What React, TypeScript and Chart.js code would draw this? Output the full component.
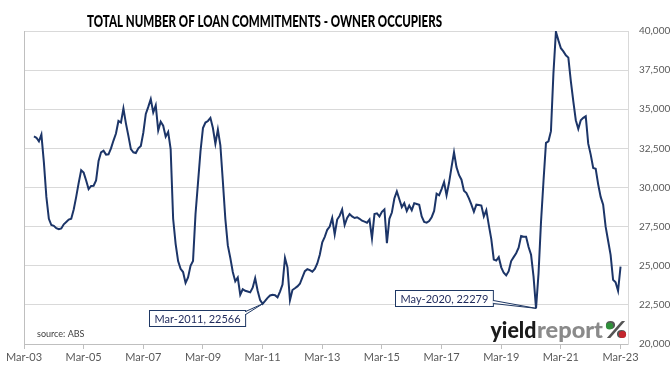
import React, { useEffect, useRef } from 'react';
import { Chart, registerables } from 'chart.js';

Chart.register(...registerables);

const TITLE = 'TOTAL NUMBER OF LOAN COMMITMENTS - OWNER OCCUPIERS';
const SOURCE = 'source: ABS';

// months counted from Mar-03 (index 0); first observation is Jul-03
const FIRST_MONTH = 4;

// Owner-occupier loan commitments, monthly, Jul-03 .. Mar-23
const commitments = [
  // Jul-03 .. Dec-03
  33260, 33180, 32950, 33380, 31600, 29400,
  // 2004
  28000, 27600, 27550, 27400, 27330, 27380, 27650, 27800, 27950, 28010, 28600, 29400,
  // 2005
  30300, 31100, 30950, 30450, 29900, 30100, 30110, 30450, 31700, 32250, 32350, 32100,
  // 2006
  32120, 32500, 33000, 33450, 34250, 34150, 35050, 34100, 33300, 32450, 32250, 32200,
  // 2007
  32500, 32650, 33500, 34700, 35150, 35650, 34800, 35250, 33650, 34200, 33950, 33250,
  // 2008
  33550, 32450, 28000, 26400, 25300, 24800, 24600, 23900, 24250, 25000, 25300, 28300,
  // 2009
  30300, 32300, 33800, 34150, 34250, 34450, 33800, 32800, 33700, 32700, 30400, 28000,
  // 2010
  26300, 25500, 24600, 24000, 24250, 23150, 23500, 23400, 23350, 23300, 23600, 24200,
  // 2011
  23400, 22800, 22566, 22750, 22950, 23100, 23150, 23120, 22980, 23350, 23800, 25500,
  // 2012
  24900, 22800, 23450, 23560, 23680, 23850, 24250, 24650, 24780, 24720, 24620, 24800,
  // 2013
  25150, 25700, 26500, 26850, 27300, 27500, 28050, 27000, 27950, 28200, 28600, 27600,
  // 2014
  28050, 28300, 28150, 28050, 28100, 28000, 27880, 27820, 27750, 27950, 26750, 28300,
  // 2015
  28350, 28150, 28450, 28600, 26450, 28000, 28400, 29300, 29750, 29250, 28750, 29000,
  // 2016
  28500, 28850, 28550, 29000, 28950, 28900, 28150, 27800, 27750, 27850, 28100, 28500,
  // 2017
  29600, 29500, 29900, 30350, 29500, 30300, 31300, 32250, 31300, 30800, 30500, 29800,
  // 2018
  29650, 29300, 28900, 28450, 28900, 28880, 28850, 28150, 28550, 27600, 26700, 25400,
  // 2019
  25330, 25550, 24900, 24550, 24380, 24650, 25300, 25550, 25800, 26150, 26900, 26850,
  // 2020
  26850, 26200, 25700, 24300, 22279, 24500, 27800, 30400, 32850, 32950, 33600, 37300,
  // 2021
  39950, 39400, 38900, 38700, 38450, 38300, 36800, 35500, 34300, 33750, 34300, 34450,
  // 2022
  34550, 32800, 32100, 31250, 31200, 30200, 29400, 28900, 27500, 26600, 25700, 24100,
  // Jan-23 .. Mar-23
  23950, 23400, 24950,
];

const xTickMonths = [0, 24, 48, 72, 96, 120, 144, 168, 192, 216, 240];
const xTickLabels = ['Mar-03', 'Mar-05', 'Mar-07', 'Mar-09', 'Mar-11', 'Mar-13', 'Mar-15', 'Mar-17', 'Mar-19', 'Mar-21', 'Mar-23'];
const yTickValues = [20000, 22500, 25000, 27500, 30000, 32500, 35000, 37500, 40000];

const calloutLabels = ['Mar-2011, 22566', 'May-2020, 22279'];
const calloutMonths = [96, 206];
const calloutValues = [22566, 22279];

// layout of the callout boxes relative to their points (px)
const calloutLayout = [
  { dx: -114, dy: 6.5, wedgeTop: 1, wedgeBottom: 4 },
  { dx: -141.5, dy: -18.5, wedgeTop: 10, wedgeBottom: 13 },
];

const FONT = 'Lato, "Open Sans", Arial, sans-serif';
const NAVY = '#1f3864';
const LINE = '#1c3568';

const overlayPlugin = {
  id: 'overlay',
  beforeDraw(chart: any) {
    const { ctx } = chart;
    ctx.save();
    ctx.fillStyle = '#ffffff';
    ctx.fillRect(0, 0, chart.width, chart.height);
    ctx.restore();
  },
  afterDraw(chart: any) {
    const { ctx, chartArea: a, scales } = chart;
    const xs = scales.x;
    const ys = scales.y;
    ctx.save();

    // left frame line
    ctx.strokeStyle = '#bfbfbf';
    ctx.lineWidth = 1;
    ctx.beginPath();
    ctx.moveTo(Math.round(a.left) + 0.5, a.top);
    ctx.lineTo(Math.round(a.left) + 0.5, a.bottom);
    ctx.stroke();

    // title
    ctx.fillStyle = '#000000';
    ctx.font = `900 16px ${FONT}`;
    ctx.textBaseline = 'alphabetic';
    ctx.textAlign = 'left';
    const tw = ctx.measureText(TITLE).width;
    const targetW = 355;
    ctx.save();
    ctx.translate(87, 26.5);
    ctx.scale(targetW / tw, 1);
    ctx.fillText(TITLE, 0, 0);
    ctx.restore();

    // source
    ctx.fillStyle = '#404040';
    ctx.font = `9px ${FONT}`;
    ctx.fillText(SOURCE, 37, 337);

    // callouts
    calloutLabels.forEach((label, k) => {
      const px = xs.getPixelForValue(calloutMonths[k]);
      const py = ys.getPixelForValue(calloutValues[k]);
      const lay = calloutLayout[k];
      ctx.font = `11px ${FONT}`;
      const w = ctx.measureText(label).width + 10;
      const h = 16;
      const bx = Math.round(px + lay.dx) + 0.5;
      const by = Math.round(py + lay.dy) + 0.5;
      ctx.fillStyle = '#ffffff';
      ctx.strokeStyle = NAVY;
      ctx.lineWidth = 1;
      ctx.fillRect(bx, by, w, h);
      ctx.strokeRect(bx, by, w, h);
      // wedge
      const rx = bx + w;
      ctx.beginPath();
      ctx.moveTo(rx, by + lay.wedgeTop);
      ctx.lineTo(px, py);
      ctx.lineTo(rx, by + lay.wedgeBottom);
      ctx.closePath();
      ctx.fillStyle = '#ffffff';
      ctx.fill();
      ctx.stroke();
      ctx.fillStyle = '#ffffff';
      ctx.fillRect(rx - 1, by + lay.wedgeTop + 0.5, 1.5, lay.wedgeBottom - lay.wedgeTop - 1);
      ctx.fillStyle = '#1f2a5c';
      ctx.textBaseline = 'middle';
      ctx.fillText(label, bx + 5, by + h / 2 + 0.5);
      ctx.textBaseline = 'alphabetic';
    });

    // logo
    ctx.font = `900 22px ${FONT}`;
    const yieldW = ctx.measureText('yield').width;
    ctx.save();
    ctx.translate(490.5, 338);
    ctx.scale(46 / yieldW, 1);
    ctx.fillStyle = '#1a1a1a';
    ctx.fillText('yield', 0, 0);
    ctx.restore();
    const repW = ctx.measureText('report').width;
    ctx.save();
    ctx.translate(537, 338);
    ctx.scale(66 / repW, 1);
    ctx.fillStyle = '#8a8a8a';
    ctx.fillText('report', 0, 0);
    ctx.restore();
    const pctW = ctx.measureText('%').width;
    ctx.save();
    ctx.translate(605, 338);
    ctx.scale(22 / pctW, 1);
    ctx.fillStyle = '#555555';
    ctx.fillText('%', 0, 0);
    ctx.restore();
    ctx.fillStyle = '#2f8f3a';
    ctx.beginPath();
    ctx.arc(609.5, 326, 3.6, 0, Math.PI * 2);
    ctx.fill();
    ctx.fillStyle = '#c4262e';
    ctx.beginPath();
    ctx.arc(622.5, 334.5, 3.6, 0, Math.PI * 2);
    ctx.fill();

    ctx.restore();
  },
};

export default function App() {
  const canvasRef = useRef<HTMLCanvasElement | null>(null);

  useEffect(() => {
    document.body.style.margin = '0';
    const canvas = canvasRef.current;
    if (!canvas) return;
    const points = commitments.map((v, k) => ({ x: FIRST_MONTH + k, y: v }));
    const chart = new Chart(canvas, {
      type: 'line',
      data: {
        datasets: [
          {
            data: points,
            borderColor: LINE,
            borderWidth: 2,
            pointRadius: 0,
            tension: 0,
            fill: false,
          },
        ],
      },
      options: {
        responsive: false,
        animation: false,
        maintainAspectRatio: false,
        layout: { padding: { top: 31, left: 24, right: 0, bottom: 0 } },
        plugins: {
          legend: { display: false },
          title: { display: false },
          tooltip: { enabled: false },
        },
        scales: {
          x: {
            type: 'linear',
            min: 0,
            max: 243,
            afterBuildTicks: (scale: any) => {
              scale.ticks = xTickMonths.map((v) => ({ value: v }));
            },
            afterFit: (scale: any) => {
              scale.height = 24;
            },
            grid: {
              drawOnChartArea: false,
              drawTicks: true,
              tickLength: 5,
              color: '#bfbfbf',
            },
            border: { display: true, color: '#bfbfbf' },
            ticks: {
              autoSkip: false,
              maxRotation: 0,
              padding: 2,
              color: '#595959',
              font: { family: FONT, size: 11 },
              callback: (v: any) => {
                const idx = xTickMonths.indexOf(Number(v));
                return idx >= 0 ? xTickLabels[idx] : '';
              },
            },
          },
          y: {
            position: 'right',
            min: 20000,
            max: 40000,
            afterBuildTicks: (scale: any) => {
              scale.ticks = yTickValues.map((v) => ({ value: v }));
            },
            afterFit: (scale: any) => {
              scale.width = 43;
            },
            grid: { color: '#d9d9d9', drawTicks: false },
            border: { display: true, color: '#d9d9d9' },
            ticks: {
              padding: 11,
              color: '#595959',
              font: { family: FONT, size: 10 },
              callback: (v: any) => Number(v).toLocaleString('en-US'),
            },
          },
        },
      },
      plugins: [overlayPlugin],
    });
    return () => chart.destroy();
  }, []);

  return (
    <div style={{ width: 671, height: 368, position: 'relative' }}>
      <canvas ref={canvasRef} width={671} height={368} style={{ display: 'block' }} />
    </div>
  );
}
